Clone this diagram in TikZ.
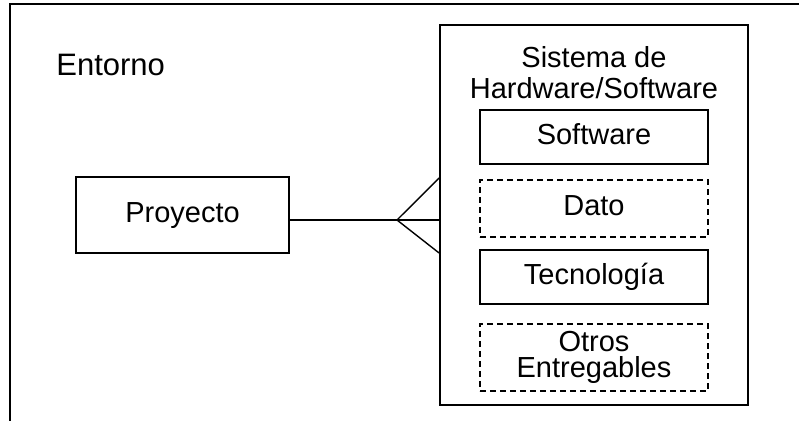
\documentclass[tikz,border=0pt]{standalone}
\usepackage{fontspec}
\setmainfont{Liberation Sans}
\usetikzlibrary{positioning}
\tikzset{
    frame/.style={line width=1pt},
    envtext/.style={inner sep=0pt, font=\fontsize{15.5pt}{17pt}\selectfont},
    systitle/.style={inner sep=0pt, align=center, font=\fontsize{14.5pt}{15.5pt}\selectfont},
    sysbox/.style={draw, line width=0.9pt, minimum width=154pt, minimum height=190pt, inner sep=0pt},
    part/.style={draw, line width=0.7pt, minimum width=114pt, inner sep=0pt,
        font=\fontsize{14.5pt}{13pt}\selectfont, text height=0.716em, text depth=0pt},
    optpart/.style={part, dash pattern=on 3pt off 2pt},
    link/.style={line width=0.7pt}
}
\begin{document}
\begin{tikzpicture}[x=0.5pt, y=-0.5pt]
    \useasboundingbox (0,0) rectangle (799,421);
    % surrounding frame, open at right and bottom
    \draw[frame] (10,421) -- (10,4) -- (799,4);
    \node[envtext, anchor=base west] (env) at (56,76) {Entorno};
    \node[part, minimum width=106.5pt, minimum height=38pt] (proj) at (182.5,215) {Proyecto};
    % system and its parts
    \node[sysbox] (sys) at (594,215) {};
    \node[systitle, anchor=base] (systxt) at (594,99) {Sistema de\\Hardware/Software};
    \node[part, minimum height=27pt] (soft) at (594,137) {Software};
    \node[optpart, minimum height=28.5pt] (dato) at (594,208.5) {Dato};
    \node[part, minimum height=27pt] (tec) at (594,277) {Tecnología};
    \node[optpart, minimum height=33.5pt, align=center, text height=23.4pt, text depth=3pt] (otros) at (594,357.5) {Otros\\Entregables};
    % one-to-many connector
    \coordinate (foot) at (397,220);
    \coordinate (toeA) at (440,178);
    \coordinate (toeB) at (440,253);
    \draw[link] (proj.east |- foot) -- (foot) -- (sys.west |- foot);
    \draw[link] (sys.west |- toeA) -- (foot) -- (sys.west |- toeB);
\end{tikzpicture}
\end{document}
